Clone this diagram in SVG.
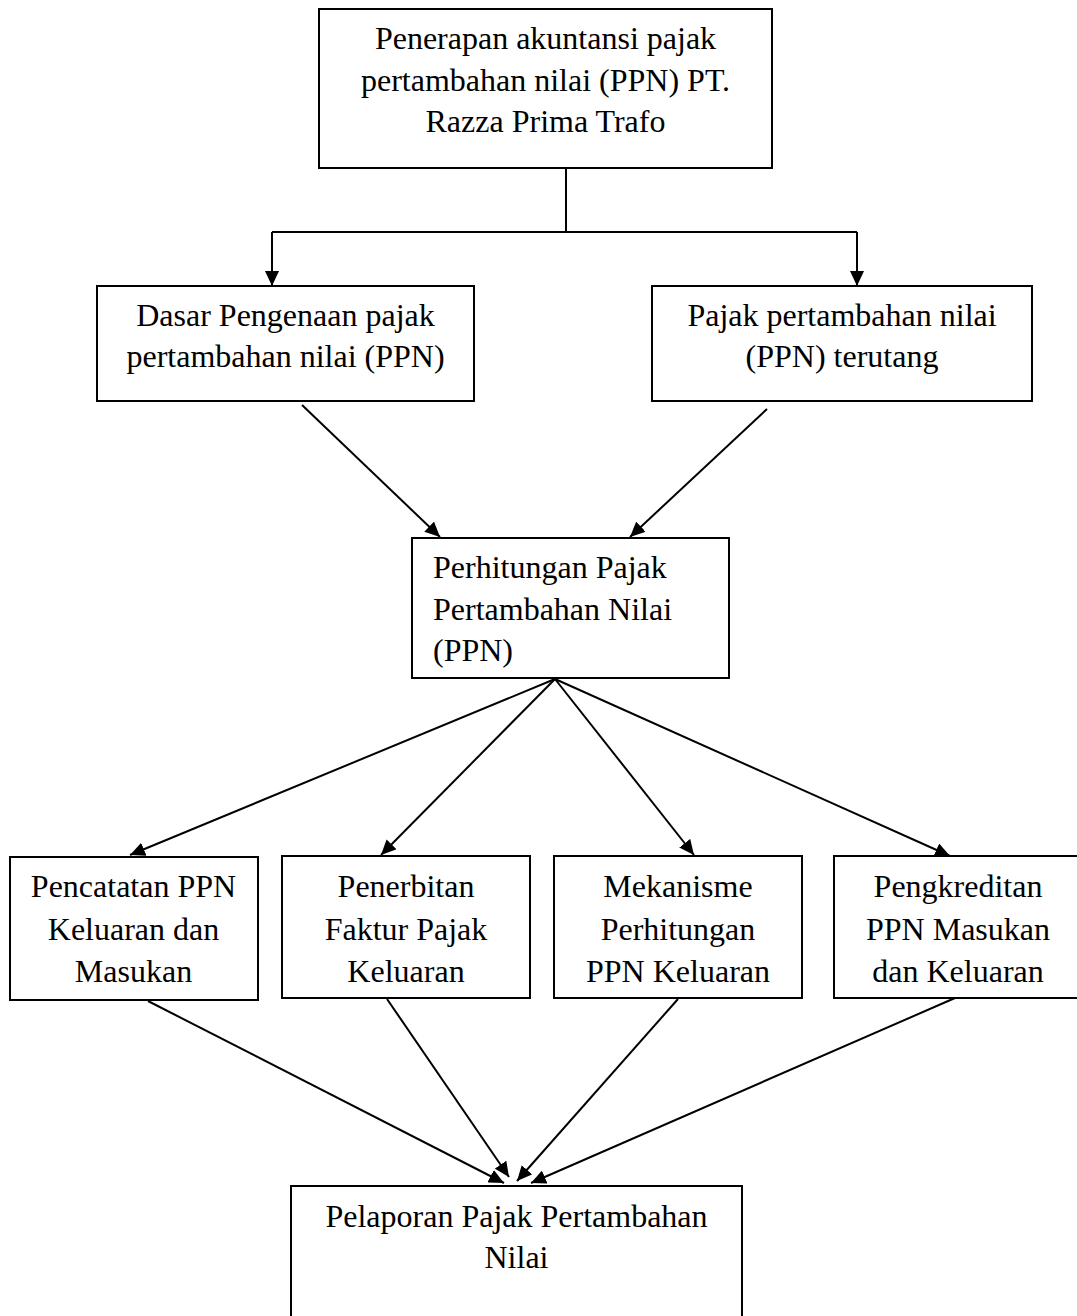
<svg xmlns="http://www.w3.org/2000/svg" width="1077" height="1316" viewBox="0 0 1077 1316">
<style>
.box{fill:#fff;stroke:#000;stroke-width:2}
.t{font-family:"Liberation Serif","Times New Roman",serif;font-size:32px;fill:#000}
.c{text-anchor:middle}
.ln{stroke:#000;stroke-width:2;fill:none}
</style>
<defs>
<marker id="ah" markerUnits="userSpaceOnUse" viewBox="0 0 15 14" markerWidth="15" markerHeight="14" refX="15" refY="7" orient="auto">
<path d="M0,0 L15,7 L0,14 z" fill="#000"/>
</marker>
</defs>
<rect width="1077" height="1316" fill="#fff"/>
<g id="connectors">
<path class="ln" d="M566,168 V232"/>
<path class="ln" d="M272,232 H857"/>
<path class="ln" d="M272,232 V286" marker-end="url(#ah)"/>
<path class="ln" d="M857,232 V286" marker-end="url(#ah)"/>
<path class="ln" d="M302,405 L440,537" marker-end="url(#ah)"/>
<path class="ln" d="M767,409 L630,537" marker-end="url(#ah)"/>
<path class="ln" d="M555,679 L130,855" marker-end="url(#ah)"/>
<path class="ln" d="M555,679 L381,855" marker-end="url(#ah)"/>
<path class="ln" d="M555,679 L694,855" marker-end="url(#ah)"/>
<path class="ln" d="M555,679 L950,856" marker-end="url(#ah)"/>
<path class="ln" d="M148,1001 L504,1183" marker-end="url(#ah)"/>
<path class="ln" d="M387,999 L509,1177" marker-end="url(#ah)"/>
<path class="ln" d="M678,999 L517,1181" marker-end="url(#ah)"/>
<path class="ln" d="M955,998 L531,1183" marker-end="url(#ah)"/>
</g>
<g id="n-top">
<rect class="box" x="319" y="9" width="453" height="159"/>
<text class="t c" x="545.5" y="49">Penerapan akuntansi pajak</text>
<text class="t c" x="545.5" y="90.5">pertambahan nilai (PPN) PT.</text>
<text class="t c" x="545.5" y="132">Razza Prima Trafo</text>
</g>
<g id="n-dasar">
<rect class="box" x="97" y="286" width="377" height="115"/>
<text class="t c" x="285.5" y="325.5">Dasar Pengenaan pajak</text>
<text class="t c" x="285.5" y="367">pertambahan nilai (PPN)</text>
</g>
<g id="n-terutang">
<rect class="box" x="652" y="286" width="380" height="115"/>
<text class="t c" x="842" y="325.5">Pajak pertambahan nilai</text>
<text class="t c" x="842" y="367">(PPN) terutang</text>
</g>
<g id="n-perhitungan">
<rect class="box" x="412" y="538" width="317" height="140"/>
<text class="t" x="433" y="578">Perhitungan Pajak</text>
<text class="t" x="433" y="620">Pertambahan Nilai</text>
<text class="t" x="433" y="661">(PPN)</text>
</g>
<g id="n-pencatatan">
<rect class="box" x="10" y="857" width="248" height="143"/>
<text class="t c" x="133.5" y="897">Pencatatan PPN</text>
<text class="t c" x="133.5" y="939.5">Keluaran dan</text>
<text class="t c" x="133.5" y="981.5">Masukan</text>
</g>
<g id="n-penerbitan">
<rect class="box" x="282" y="856" width="248" height="142"/>
<text class="t c" x="406" y="897">Penerbitan</text>
<text class="t c" x="406" y="939.5">Faktur Pajak</text>
<text class="t c" x="406" y="981.5">Keluaran</text>
</g>
<g id="n-mekanisme">
<rect class="box" x="554" y="856" width="248" height="142"/>
<text class="t c" x="678" y="897">Mekanisme</text>
<text class="t c" x="678" y="939.5">Perhitungan</text>
<text class="t c" x="678" y="981.5">PPN Keluaran</text>
</g>
<g id="n-pengkreditan">
<rect class="box" x="834" y="856" width="248" height="142"/>
<text class="t c" x="958" y="897">Pengkreditan</text>
<text class="t c" x="958" y="939.5">PPN Masukan</text>
<text class="t c" x="958" y="981.5">dan Keluaran</text>
</g>
<g id="n-pelaporan">
<rect class="box" x="291" y="1186" width="451" height="140"/>
<text class="t c" x="516.5" y="1227">Pelaporan Pajak Pertambahan</text>
<text class="t c" x="516.5" y="1268">Nilai</text>
</g>
</svg>
